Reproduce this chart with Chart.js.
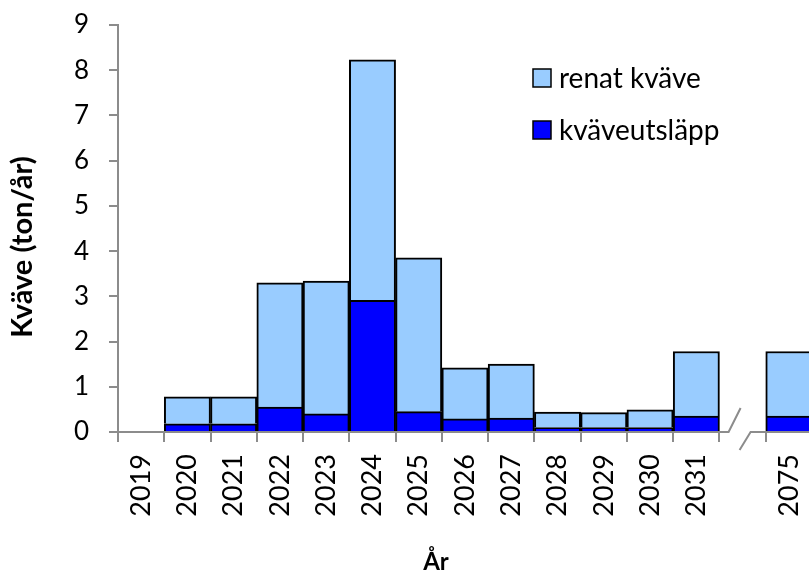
<!DOCTYPE html>
<html><head><meta charset="utf-8">
<script src="https://cdn.jsdelivr.net/npm/chart.js@4/dist/chart.umd.min.js"></script>
<style>html,body{margin:0;padding:0;background:#fff;overflow:hidden}
#wrap{position:relative;width:812px;height:578px}</style>
</head><body><div id="wrap"><canvas id="c"></canvas></div>
<script>
const categories = ['2019','2020','2021','2022','2023','2024','2025','2026','2027','2028','2029','2030','2031','','2075'];
const kvaveutslapp = [null,0.18,0.18,0.55,0.40,2.91,0.45,0.29,0.31,0.10,0.10,0.10,0.35,null,0.35];
const renatKvave = [null,0.60,0.60,2.75,2.94,5.32,3.40,1.13,1.19,0.34,0.33,0.39,1.43,null,1.43];
const yMin = 0, yMax = 9, yStep = 1;
const yTitle = 'Kväve (ton/år)';
const xTitle = 'År';
const legendOrder = [1, 0];

const FONT = 'Lato';
const GRAY = '#8c8c8c';

const extras = {
  id: 'extras',
  afterDraw(chart) {
    const ctx = chart.ctx, a = chart.chartArea, x = chart.scales.x;
    ctx.save();
    // x axis line with break
    const bc = x.getPixelForValue(13);
    const y0 = a.bottom;
    ctx.strokeStyle = GRAY; ctx.lineWidth = 2;
    ctx.beginPath();
    ctx.moveTo(a.left, y0); ctx.lineTo(bc - 14, y0); ctx.lineTo(bc - 2, y0 - 24);
    ctx.moveTo(bc - 3, y0 + 18); ctx.lineTo(bc + 8, y0); ctx.lineTo(a.right + 5, y0);
    ctx.stroke();
    // legend
    ctx.font = '28px ' + FONT;
    ctx.textBaseline = 'alphabetic'; ctx.textAlign = 'left';
    legendOrder.forEach((di, i) => {
      const ds = chart.data.datasets[di];
      const by = 69 + i * 52;
      ctx.fillStyle = ds.backgroundColor;
      ctx.fillRect(533, by, 18, 18);
      ctx.strokeStyle = '#000'; ctx.lineWidth = 1.5;
      ctx.strokeRect(533, by, 18, 18);
      ctx.fillStyle = '#000';
      ctx.fillText(ds.label, 559, by + 19);
    });
    // axis titles
    ctx.textAlign = 'center';
    ctx.font = 'bold 24px ' + FONT;
    ctx.fillText(xTitle, 436, 570);
    ctx.font = 'bold 29px ' + FONT;
    ctx.textBaseline = 'middle';
    ctx.translate(23, 247); ctx.rotate(-Math.PI / 2);
    ctx.fillText(yTitle, 0, 0);
    ctx.restore();
  }
};

new Chart(document.getElementById('c'), {
  type: 'bar',
  data: {
    labels: categories,
    datasets: [
      { label: 'kväveutsläpp', data: kvaveutslapp, backgroundColor: '#0000FF', borderColor: '#000', borderWidth: 2 },
      { label: 'renat kväve', data: renatKvave, backgroundColor: '#99CCFF', borderColor: '#000', borderWidth: 2 }
    ]
  },
  options: {
    responsive: true, maintainAspectRatio: false, animation: false,
    layout: { padding: { top: 25, right: 0, left: 0, bottom: 0 } },
    datasets: { bar: { barPercentage: 1, categoryPercentage: 1 } },
    plugins: { legend: { display: false }, tooltip: { enabled: false } },
    scales: {
      x: {
        stacked: true,
        grid: { offset: true, drawOnChartArea: false, drawTicks: true, tickLength: 10, color: GRAY, lineWidth: 2 },
        border: { display: false },
        ticks: { minRotation: 90, maxRotation: 90, padding: 12, color: '#000', font: { family: FONT, size: 27 }, autoSkip: false },
        afterFit(s) { s.height = 146; s.paddingLeft = 0; s.paddingRight = 0; }
      },
      y: {
        stacked: true, min: yMin, max: yMax,
        grid: { drawOnChartArea: false, drawTicks: true, tickLength: 9, color: GRAY, lineWidth: 2 },
        border: { display: true, color: GRAY, width: 2 },
        ticks: { stepSize: yStep, padding: 20, color: '#000', font: { family: FONT, size: 26 } },
        afterFit(s) { s.width = 118; s.paddingTop = 0; s.paddingBottom = 0; }
      }
    }
  },
  plugins: [extras]
});
</script></body></html>
